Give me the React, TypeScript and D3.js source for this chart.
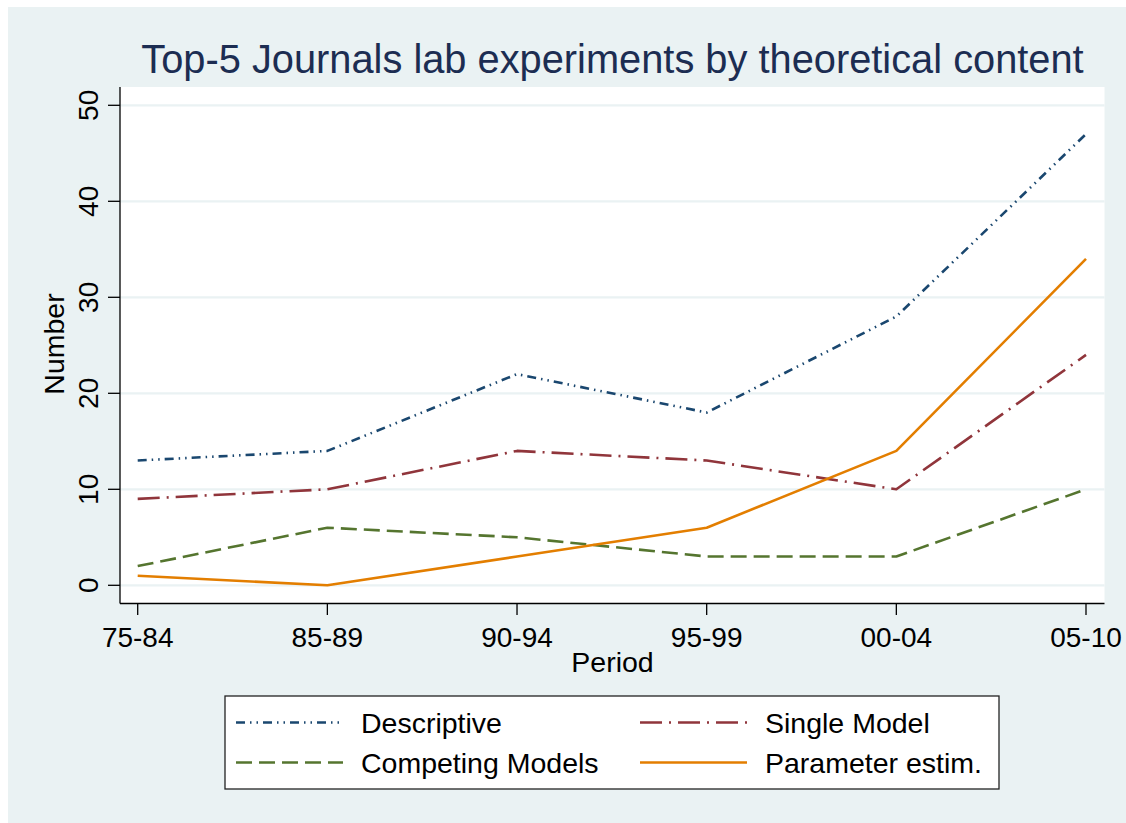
import React from "react";
import * as d3 from "d3";

const periods = ["75-84", "85-89", "90-94", "95-99", "00-04", "05-10"];
const descriptive = [13, 14, 22, 18, 28, 47];
const singleModel = [9, 10, 14, 13, 10, 24];
const competingModels = [2, 6, 5, 3, 3, 10];
const parameterEstim = [1, 0, 3, 6, 14, 34];
const yTicks = [0, 10, 20, 30, 40, 50];

const seriesNames = ["Descriptive", "Single Model", "Competing Models", "Parameter estim."];
const seriesColors = ["#1a476f", "#90353b", "#55752f", "#e37e00"];
const seriesDash = ["9 5 1.5 5 1.5 5", "22 7 2 7", "16 7", "none"];

const FONT = "'Liberation Sans', Arial, Helvetica, sans-serif";

export default function App() {
  const W = 1126, H = 823;
  const left = 120, right = 1104.5, top = 87, bottom = 603.5;
  const x = d3.scalePoint<string>().domain(periods).range([137.7, 1086]);
  const y = d3.scaleLinear().domain([0, 50]).range([585.3, 105.3]);
  const line = d3
    .line<number>()
    .x((_, i) => x(periods[i]) as number)
    .y((v) => y(v));
  const allSeries = [descriptive, singleModel, competingModels, parameterEstim];

  const legendItems = [
    { idx: 0, lx: 236, ly: 722.5 },
    { idx: 1, lx: 640, ly: 722.5 },
    { idx: 2, lx: 236, ly: 762.5 },
    { idx: 3, lx: 640, ly: 762.5 },
  ];

  return (
    <svg
      width={W}
      height={H}
      style={{ position: "absolute", left: 0, top: 0, display: "block" }}
      fontFamily={FONT}
    >
      <rect x={0} y={0} width={W} height={H} fill="#ffffff" />
      <rect x={8} y={7} width={W - 8} height={H - 7} fill="#eaf2f3" />
      <text
        x={612.5}
        y={73}
        textAnchor="middle"
        fontSize={39.8}
        fill="#1c2d52"
      >
        Top-5 Journals lab experiments by theoretical content
      </text>

      {/* plot region */}
      <rect x={left} y={top} width={right - left} height={bottom - top} fill="#ffffff" />
      {yTicks.map((t) => (
        <line
          key={"g" + t}
          x1={left}
          x2={right}
          y1={y(t)}
          y2={y(t)}
          stroke="#eaf2f3"
          strokeWidth={2.2}
        />
      ))}

      {/* series */}
      {allSeries.map((s, i) => (
        <path
          key={"s" + i}
          d={line(s) || ""}
          fill="none"
          stroke={seriesColors[i]}
          strokeWidth={2.6}
          strokeDasharray={seriesDash[i]}
          strokeLinejoin="round"
        />
      ))}

      {/* axes */}
      <line x1={left} x2={left} y1={top} y2={bottom} stroke="#000" strokeWidth={1.3} />
      <line x1={left} x2={right} y1={bottom} y2={bottom} stroke="#000" strokeWidth={1.3} />
      {yTicks.map((t) => (
        <g key={"yt" + t}>
          <line x1={108} x2={left} y1={y(t)} y2={y(t)} stroke="#000" strokeWidth={1.3} />
          <text
            transform={`translate(98,${y(t)}) rotate(-90)`}
            textAnchor="middle"
            fontSize={28}
            fill="#000"
          >
            {t}
          </text>
        </g>
      ))}
      {periods.map((p) => (
        <g key={"xt" + p}>
          <line
            x1={x(p) as number}
            x2={x(p) as number}
            y1={bottom}
            y2={615}
            stroke="#000"
            strokeWidth={1.3}
          />
          <text x={x(p) as number} y={647} textAnchor="middle" fontSize={28} fill="#000">
            {p}
          </text>
        </g>
      ))}
      <text x={612.5} y={672} textAnchor="middle" fontSize={28.5} fill="#000">
        Period
      </text>
      <text
        transform={`translate(63.5,344) rotate(-90)`}
        textAnchor="middle"
        fontSize={28.5}
        fill="#000"
      >
        Number
      </text>

      {/* legend */}
      <rect x={225} y={696} width={774} height={93} fill="#ffffff" stroke="#222" strokeWidth={1.3} />
      {legendItems.map((it) => (
        <g key={"lg" + it.idx}>
          <line
            x1={it.lx}
            x2={it.lx + 107}
            y1={it.ly}
            y2={it.ly}
            stroke={seriesColors[it.idx]}
            strokeWidth={2.6}
            strokeDasharray={seriesDash[it.idx]}
          />
          <text x={it.lx + 125} y={it.ly + 10} fontSize={28.5} fill="#000">
            {seriesNames[it.idx]}
          </text>
        </g>
      ))}
    </svg>
  );
}
